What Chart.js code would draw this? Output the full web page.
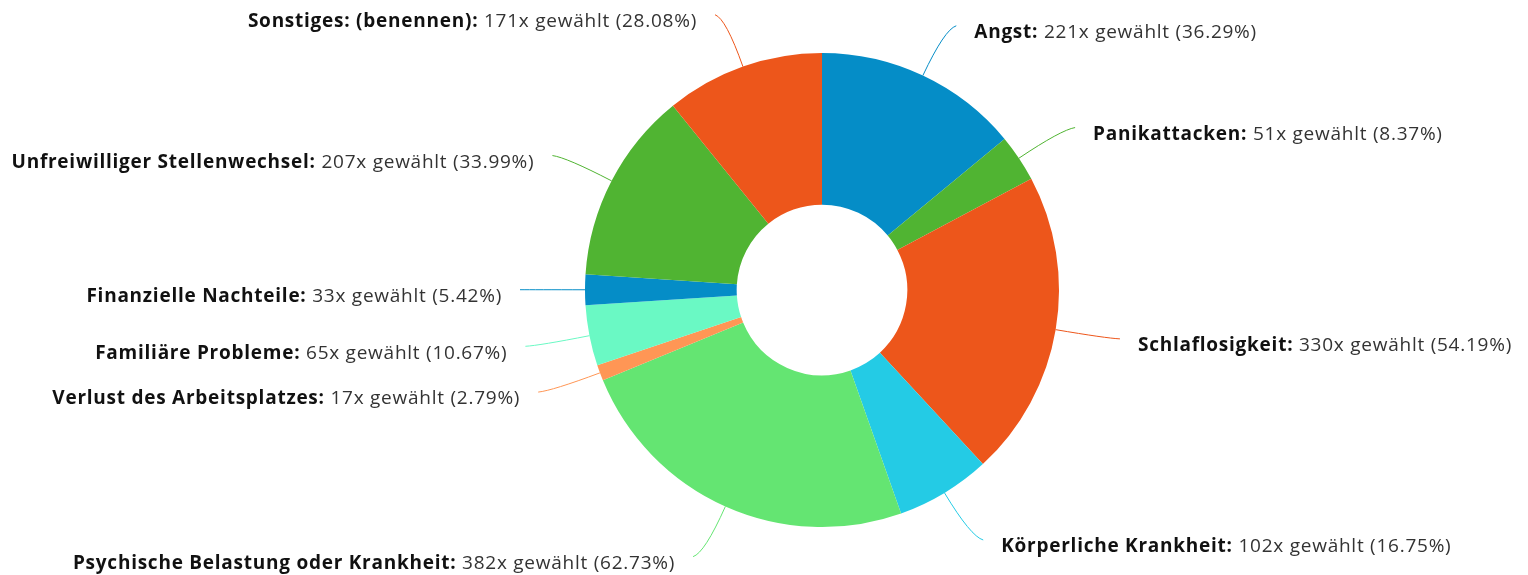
<!DOCTYPE html>
<html>
<head>
<meta charset="utf-8">
<script src="https://cdn.jsdelivr.net/npm/chart.js@4/dist/chart.umd.min.js"></script>
<style>
  html, body { margin:0; padding:0; background:#fff; }
  #wrap { width:1528px; height:575px; }
</style>
</head>
<body>
<div id="wrap"><canvas id="chart" width="1528" height="575"></canvas></div>
<script>
// values, clockwise from 12 o'clock
const categories = ['Angst', 'Panikattacken', 'Schlaflosigkeit', 'Körperliche Krankheit',
  'Psychische Belastung oder Krankheit', 'Verlust des Arbeitsplatzes', 'Familiäre Probleme',
  'Finanzielle Nachteile', 'Unfreiwilliger Stellenwechsel', 'Sonstiges: (benennen)'];
const counts = [221, 51, 330, 102, 382, 17, 65, 33, 207, 171];
const percents = ['36.29', '8.37', '54.19', '16.75', '62.73', '2.79', '10.67', '5.42', '33.99', '28.08'];
const colors = ['#058DC7', '#50B432', '#ED561B', '#24CBE5', '#64E572', '#FF9655', '#6AF9C4',
  '#058DC7', '#50B432', '#ED561B'];

const FONT = '"Open Sans", sans-serif';
const SIZE = 19;

// leader lines + "name: Nx gewählt (p%)" labels outside the ring
const leaderLabels = {
  id: 'leaderLabels',
  afterDatasetsDraw(chart){
    const ctx = chart.ctx;
    const meta = chart.getDatasetMeta(0);
    meta.data.forEach((arc, i)=>{
      const p = arc.getProps(['x','y','startAngle','endAngle','outerRadius'], true);
      const a = (p.startAngle + p.endAngle) / 2;
      const c = Math.cos(a), s = Math.sin(a);
      const right = c >= 0;
      const dir = right ? 1 : -1;
      const r = p.outerRadius;
      const sx = p.x + r * c, sy = p.y + r * s;
      const ex = p.x + (r + 65) * c + dir * 7 * s * s, ey = p.y + (r + 55) * s;
      const qx = p.x + (r + 51) * c, qy = p.y + (r + 51) * s;

      ctx.save();
      ctx.strokeStyle = colors[i];
      ctx.lineWidth = 1;
      ctx.beginPath();
      ctx.moveTo(sx, sy);
      ctx.quadraticCurveTo(qx, qy, ex, ey);
      ctx.stroke();

      const bold = categories[i] + ':';
      const rest = ` ${counts[i]}x gewählt (${percents[i]}%)`;
      ctx.textBaseline = 'middle';
      ctx.textAlign = 'left';
      ctx.letterSpacing = '0.75px';
      ctx.font = `bold ${SIZE}px ${FONT}`;
      const wb = ctx.measureText(bold).width;
      ctx.font = `${SIZE}px ${FONT}`;
      const wn = ctx.measureText(rest).width;
      const tx = right ? ex + 18 : ex - 18 - wb - wn;
      const ty = ey + 7;
      ctx.font = `bold ${SIZE}px ${FONT}`;
      ctx.fillStyle = '#111';
      ctx.fillText(bold, tx, ty);
      ctx.font = `${SIZE}px ${FONT}`;
      ctx.fillStyle = '#333';
      ctx.fillText(rest, tx + wb, ty);
      ctx.restore();
    });
  }
};

new Chart(document.getElementById('chart'), {
  type: 'doughnut',
  data: { labels: categories, datasets: [{ data: counts, backgroundColor: colors, borderWidth: 0, hoverOffset: 0, offset: 0 }] },
  options: {
    responsive:false, animation:false, events:[],
    cutout: '36%',
    layout:{ padding:{ top:53, bottom:48, left:300, right:184 } },
    plugins:{ legend:{ display:false }, tooltip:{ enabled:false } }
  },
  plugins: [leaderLabels]
});
</script>
</body>
</html>
